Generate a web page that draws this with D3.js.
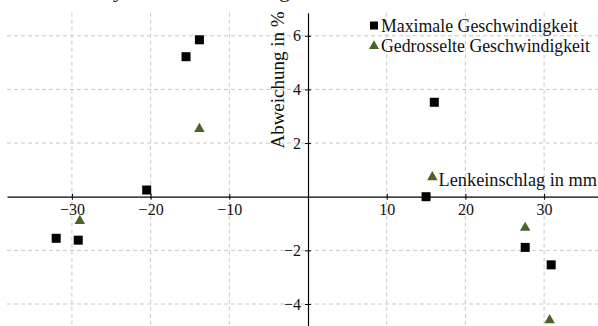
<!DOCTYPE html>
<html>
<head>
<meta charset="utf-8">
<script src="https://cdn.jsdelivr.net/npm/d3@7"></script>
<style>
  body { margin: 0; background: #fff; }
  svg text { font-family: "Liberation Serif", "DejaVu Serif", serif; fill: #111; }
  .grid line { stroke: #c8c8c8; stroke-dasharray: 4,3; }
  .axis path, .axis line { stroke: #000; }
</style>
</head>
<body>
<svg id="chart" width="598" height="326"></svg>
<script>
// Lenkeinschlag (mm) vs. Abweichung (%)
var maxX = [-20.5, -32.0, -29.2, -13.8, -15.5, 16.05, 15.0, 27.6, 30.9];
var maxY = [0.25, -1.55, -1.62, 5.85, 5.22, 3.52, 0.0, -1.89, -2.54];
var slowX = [-29.0, -13.8, 15.8, 27.6, 30.7];
var slowY = [-0.9, 2.53, 0.73, -1.16, -4.6];
var xTicks = [-30, -20, -10, 10, 20, 30];
var yTicks = [-4, -2, 2, 4, 6];
var seriesNames = ["Maximale Geschwindigkeit", "Gedrosselte Geschwindigkeit"];
var axisLabels = {x: "Lenkeinschlag in mm", y: "Abweichung in %"};

var width = 598, height = 326,
    plotLeft = 7, plotTop = 12.7;

var svg = d3.select("#chart");

var xScale = d3.scaleLinear().domain([-38.25, 36.85]).range([plotLeft, width]);
var yScale = d3.scaleLinear().domain([6.86, -4.82]).range([plotTop, height]);

var fmt = function(d){ return d < 0 ? "\u2212" + Math.abs(d) : "" + d; };

// cut off page text above the figure
svg.append("text").attr("x", 66).attr("y", -3).style("font-size", "22px").text("des Systems bei");
svg.append("text").attr("x", 252).attr("y", -3).style("font-size", "22px").text("langsamer Fahrt");

// grid
var g = svg.append("g").attr("class", "grid");
g.selectAll(".vx").data(xTicks).enter().append("line")
    .attr("x1", function(d){return xScale(d)}).attr("x2", function(d){return xScale(d)})
    .attr("y1", plotTop).attr("y2", height);
g.selectAll(".hy").data(yTicks).enter().append("line")
    .attr("x1", plotLeft).attr("x2", width)
    .attr("y1", function(d){return yScale(d)}).attr("y2", function(d){return yScale(d)});

// axes through the origin
var xAxis = d3.axisBottom(xScale).tickValues(xTicks).tickFormat(fmt).tickSizeInner(3).tickSizeOuter(0).tickPadding(4);
var yAxis = d3.axisLeft(yScale).tickValues(yTicks).tickFormat(fmt).tickSizeInner(3).tickSizeOuter(0).tickPadding(4);

var gx = svg.append("g").attr("class", "axis")
    .attr("transform", "translate(0," + yScale(0) + ")").call(xAxis);
var gy = svg.append("g").attr("class", "axis")
    .attr("transform", "translate(" + xScale(0) + ",0)").call(yAxis);

gx.selectAll("text").style("font-size", "16px").style("font-family", "Liberation Serif").attr("fill", "#111");
gy.selectAll("text").style("font-size", "16px").style("font-family", "Liberation Serif").attr("fill", "#111");
gx.selectAll(".tick line").attr("y1", -3);
gy.selectAll(".tick line").attr("x1", 3);
gx.select("path.domain").attr("stroke-width", 1.2);
gy.select("path.domain").attr("stroke-width", 1.2);

// axis labels
svg.append("text")
    .attr("x", 597).attr("y", 186)
    .attr("text-anchor", "end")
    .style("font-size", "18.3px")
    .text(axisLabels.x);
svg.append("text")
    .attr("transform", "translate(284,80) rotate(-90)")
    .attr("text-anchor", "middle")
    .style("font-size", "19px")
    .text(axisLabels.y);

// markers
var square = d3.symbol().type(d3.symbolSquare).size(81);
var tri = d3.symbol().type(d3.symbolTriangle).size(48);
var green = "#4b6326";

svg.selectAll(".sq").data(d3.zip(maxX, maxY)).enter().append("path")
    .attr("d", square)
    .attr("fill", "#000")
    .attr("transform", function(d){return "translate(" + xScale(d[0]) + "," + yScale(d[1]) + ")"});

svg.selectAll(".tr").data(d3.zip(slowX, slowY)).enter().append("path")
    .attr("d", tri)
    .attr("fill", green)
    .attr("transform", function(d){return "translate(" + xScale(d[0]) + "," + yScale(d[1]) + ")"});

// legend
var lg = svg.append("g");
lg.append("path").attr("d", d3.symbol().type(d3.symbolSquare).size(64))
    .attr("fill", "#000").attr("transform", "translate(374,25.5)");
lg.append("text").attr("x", 381).attr("y", 31.5).style("font-size", "17.8px").text(seriesNames[0]);
lg.append("path").attr("d", d3.symbol().type(d3.symbolTriangle).size(44))
    .attr("fill", green).attr("transform", "translate(374,46)");
lg.append("text").attr("x", 381).attr("y", 52).style("font-size", "17.8px").text(seriesNames[1]);
</script>
</body>
</html>
